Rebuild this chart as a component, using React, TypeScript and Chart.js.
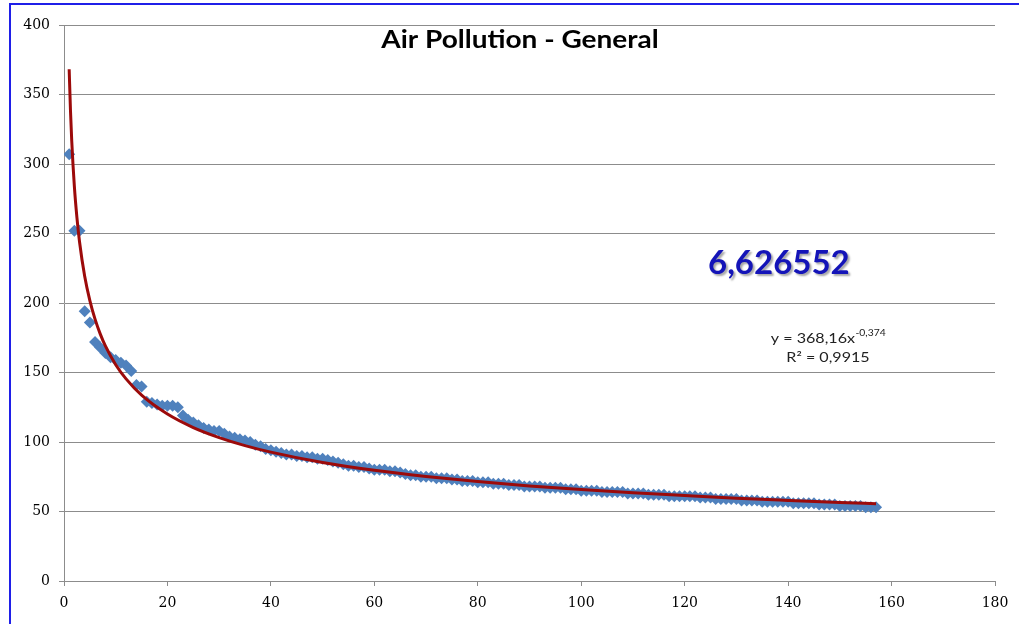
import React, { useEffect, useRef } from "react";
import { Chart, registerables } from "chart.js";

Chart.register(...registerables);

// Observed values (sorted, rank 1..157)
const pollutionValues: number[] = [
  307, 252, 252, 194, 186, 172, 168, 164, 161, 159,
  157, 155, 151, 141, 140, 129, 128, 127, 126, 126,
  126, 125, 119, 116, 114, 112, 110, 109, 108, 108,
  106, 104, 103, 102, 101, 100, 98, 97, 95, 94,
  93, 92, 91, 91, 90, 90, 89, 89, 88, 88,
  87, 86, 85, 84, 83, 83, 82, 82, 81, 80,
  80, 80, 79, 79, 78, 77, 76, 76, 75, 75,
  75, 74, 74, 74, 73, 73, 72, 72, 72, 71,
  71, 71, 70, 70, 70, 69, 69, 69, 68, 68,
  68, 68, 67, 67, 67, 67, 66, 66, 66, 65,
  65, 65, 65, 64, 64, 64, 64, 64, 63, 63,
  63, 63, 62, 62, 62, 62, 61, 61, 61, 61,
  61, 61, 60, 60, 60, 59, 59, 59, 59, 59,
  58, 58, 58, 58, 57, 57, 57, 57, 57, 57,
  56, 56, 56, 56, 56, 55, 55, 55, 55, 54,
  54, 54, 54, 54, 53, 53, 53,
];

// Trend line (power fit)
const trendX: number[] = [1, 1.25, 1.5, 2, 2.5, 3, 4, 5, 6, 7, 8, 10, 12, 15, 20, 25, 30, 35, 40, 50, 60, 70, 80, 90, 100, 110, 120, 130, 140, 150, 157];
const trendY: number[] = [368.2, 338.7, 316.4, 284.1, 261.4, 244.1, 219.2, 201.7, 188.4, 177.8, 169.1, 155.6, 145.4, 133.7, 120.1, 110.4, 103.2, 97.4, 92.7, 85.2, 79.6, 75.2, 71.5, 68.4, 65.8, 63.5, 61.5, 59.6, 58.0, 56.5, 55.6];

const xAxisMin = 0;
const xAxisMax = 180;
const xAxisStep = 20;
const yAxisMin = 0;
const yAxisMax = 400;
const yAxisStep = 50;

const TITLE = "Air Pollution - General";
const HIGHLIGHT = "6,626552";
const EQ_MAIN = "y = 368,16x";
const EQ_EXP = "-0,374";
const R2_TEXT = "R² = 0,9915";

function stretchedText(
  ctx: CanvasRenderingContext2D,
  text: string,
  x: number,
  y: number,
  sx: number
) {
  ctx.save();
  ctx.translate(x, y);
  ctx.scale(sx, 1);
  ctx.fillText(text, 0, 0);
  ctx.restore();
}

const overlayPlugin = {
  id: "overlayTexts",
  afterDraw(chart: any) {
    const ctx: CanvasRenderingContext2D = chart.ctx;
    ctx.save();
    // title
    ctx.fillStyle = "#000000";
    ctx.font = "bold 25px Lato";
    ctx.textAlign = "center";
    ctx.textBaseline = "middle";
    stretchedText(ctx, TITLE, 520, 40, 1.12);

    // highlighted number
    ctx.save();
    ctx.shadowColor = "rgba(0,0,0,0.35)";
    ctx.shadowOffsetX = 2;
    ctx.shadowOffsetY = 2;
    ctx.shadowBlur = 2;
    ctx.fillStyle = "#1414b8";
    ctx.font = "bold 33px Lato";
    ctx.textAlign = "left";
    ctx.textBaseline = "alphabetic";
    ctx.fillText(HIGHLIGHT, 708, 274);
    ctx.restore();

    // equation
    const sx = 1.15;
    ctx.fillStyle = "#222222";
    ctx.textAlign = "left";
    ctx.textBaseline = "alphabetic";
    ctx.font = "14px Lato";
    const mainW = ctx.measureText(EQ_MAIN).width * sx;
    ctx.font = "9px Lato";
    const expW = ctx.measureText(EQ_EXP).width * sx;
    const eqCenter = 828;
    const startX = eqCenter - (mainW + expW) / 2;
    ctx.font = "14px Lato";
    stretchedText(ctx, EQ_MAIN, startX, 343, sx);
    ctx.font = "9px Lato";
    stretchedText(ctx, EQ_EXP, startX + mainW + 0.5, 336, sx);
    ctx.font = "14px Lato";
    ctx.textAlign = "center";
    stretchedText(ctx, R2_TEXT, eqCenter, 362, sx);
    ctx.restore();
  },
};

export default function App() {
  const canvasRef = useRef<HTMLCanvasElement | null>(null);

  useEffect(() => {
    if (!canvasRef.current) return;
    const points = pollutionValues.map((v, i) => ({ x: i + 1, y: v }));
    const trend = trendX.map((x, i) => ({ x, y: trendY[i] }));
    const tickFont = { family: "DejaVu Serif", size: 14, weight: "normal" as const };
    const chart = new Chart(canvasRef.current, {
      type: "scatter",
      data: {
        datasets: [
          {
            label: "Trend",
            data: trend,
            showLine: true,
            borderColor: "#9c0a0a",
            borderWidth: 3,
            pointRadius: 0,
            cubicInterpolationMode: "monotone",
            order: 0,
          } as any,
          {
            label: "Air Pollution",
            data: points,
            pointStyle: "rectRot",
            pointRadius: 6,
            backgroundColor: "#4f81bd",
            borderColor: "#4f81bd",
            borderWidth: 0,
            order: 1,
          } as any,
        ],
      },
      options: {
        responsive: false,
        animation: false,
        layout: { padding: { left: 0, top: 25, right: 24, bottom: 0 } },
        plugins: {
          legend: { display: false },
          title: { display: false },
          tooltip: { enabled: false },
        },
        scales: {
          x: {
            type: "linear",
            min: xAxisMin,
            max: xAxisMax,
            afterFit: (s: any) => {
              s.height = 43;
            },
            ticks: {
              stepSize: xAxisStep,
              font: tickFont,
              color: "#000000",
              padding: 9,
              maxRotation: 0,
            },
            grid: {
              drawOnChartArea: false,
              drawTicks: true,
              tickLength: 5,
              color: "#8c8c8c",
            },
            border: { display: true, color: "#8c8c8c", width: 1 },
          },
          y: {
            type: "linear",
            min: yAxisMin,
            max: yAxisMax,
            afterFit: (s: any) => {
              s.width = 64;
            },
            ticks: {
              stepSize: yAxisStep,
              font: tickFont,
              color: "#000000",
              padding: 9,
            },
            grid: {
              drawOnChartArea: true,
              drawTicks: true,
              tickLength: 5,
              color: "#8c8c8c",
            },
            border: { display: true, color: "#8c8c8c", width: 1 },
          },
        },
      } as any,
      plugins: [overlayPlugin],
    });
    return () => chart.destroy();
  }, []);

  return (
    <div
      style={{
        position: "fixed",
        left: 0,
        top: 0,
        width: 1019,
        height: 624,
        background: "#ffffff",
        overflow: "hidden",
      }}
    >
      <div
        style={{
          position: "absolute",
          left: 9,
          top: 3,
          width: 1040,
          height: 640,
          border: "2px solid #1f1fe8",
          boxSizing: "border-box",
        }}
      />
      <canvas
        ref={canvasRef}
        width={1019}
        height={624}
        style={{ position: "absolute", left: 0, top: 0, width: 1019, height: 624 }}
      />
    </div>
  );
}
